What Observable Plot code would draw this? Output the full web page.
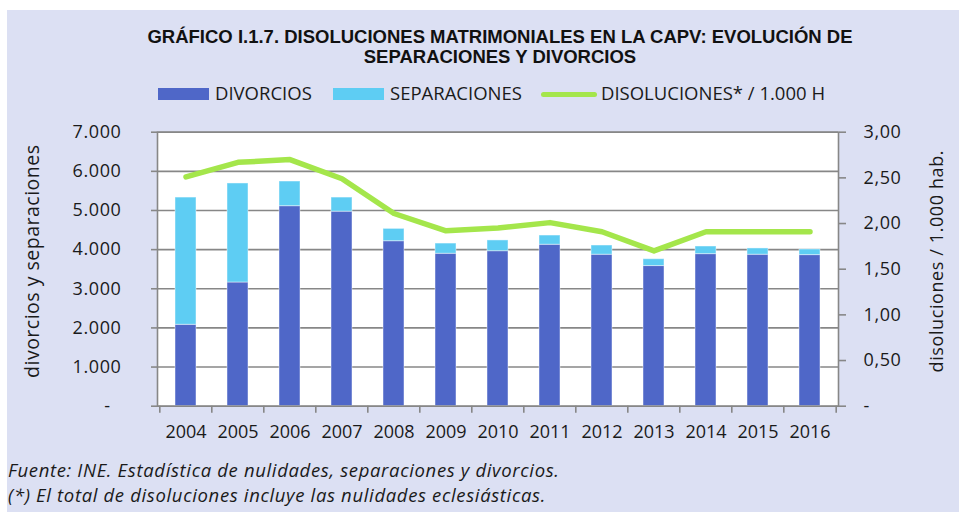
<!DOCTYPE html>
<html>
<head>
<meta charset="utf-8">
<script src="https://cdn.jsdelivr.net/npm/d3@7"></script>
<script src="https://cdn.jsdelivr.net/npm/@observablehq/plot@0.6"></script>
<style>
  html, body { margin: 0; padding: 0; background: #ffffff; }
  #page { position: relative; width: 959px; height: 512px; overflow: hidden; }
  #bg { position: absolute; left: 7px; top: 10px; width: 952px; height: 502px; background: #dce0f3; }
  #title { position: absolute; left: 0; top: 27px; width: 1000px; text-align: center;
    font-family: "Liberation Sans", Arial, sans-serif; font-weight: bold; font-size: 18.5px; line-height: 20px; color: #111; }
  .leg { position: absolute; font-family: "Open Sans", sans-serif; font-size: 18.5px; line-height: 20px; color: #1a1a1a; top: 83px; white-space: nowrap; }
  .sw { position: absolute; }
  #chart { position: absolute; left: 0; top: 110px; }
  #chart g[aria-label="y-axis tick label"] text { letter-spacing: 0.6px; }
  .foot { position: absolute; left: 8px; font-family: "Open Sans", sans-serif; font-style: italic; font-size: 18.5px; letter-spacing: 0.65px; line-height: 24px; color: #1a1a1a; white-space: nowrap; }
</style>
</head>
<body>
<div id="page">
  <div id="bg"></div>
  <div id="title">GRÁFICO I.1.7. DISOLUCIONES MATRIMONIALES EN LA CAPV: EVOLUCIÓN DE<br>SEPARACIONES Y DIVORCIOS</div>
  <div id="legend"></div>
  <div id="chart"></div>
  <div class="foot" style="top:458px">Fuente: INE. Estadística de nulidades, separaciones y divorcios.</div>
  <div class="foot" style="top:482.5px">(*) El total de disoluciones incluye las nulidades eclesiásticas.</div>
</div>
<script>
const years = ["2004","2005","2006","2007","2008","2009","2010","2011","2012","2013","2014","2015","2016"];
const divorcios = [2080, 3160, 5110, 4970, 4215, 3895, 3960, 4125, 3870, 3580, 3885, 3870, 3860];
const separaciones = [3250, 2530, 630, 360, 315, 260, 275, 235, 235, 175, 195, 160, 145];
const disoluciones = [2.51, 2.67, 2.70, 2.49, 2.11, 1.92, 1.95, 2.01, 1.91, 1.70, 1.91, 1.91, 1.91];
const seriesNames = ["DIVORCIOS", "SEPARACIONES"];
const lineName = "DISOLUCIONES* / 1.000 H";
const leftTicks = [0, 1000, 2000, 3000, 4000, 5000, 6000, 7000];
const rightTicks = [0, 0.5, 1, 1.5, 2, 2.5, 3];
const leftTitle = "divorcios y separaciones";
const rightTitle = "disoluciones / 1.000 hab.";

const colors = ["#4f67c8", "#5ecdf3"];
const lineColor = "#a4e64b";
const gridColor = "#878787";
const textColor = "#1a1a1a";

const k = 7000 / 3; // right axis -> left axis
const stacked = [];
years.forEach((y, i) => {
  stacked.push({year: y, series: seriesNames[0], value: divorcios[i]});
  stacked.push({year: y, series: seriesNames[1], value: separaciones[i]});
});
const lineData = years.map((y, i) => ({year: y, v: disoluciones[i]}));

const W = 959, ML = 157, MR = 121;
const bw = (W - ML - MR) / years.length;

const fmtLeft = d => d === 0 ? "-\u2007" : d3.format(",")(d).replace(/,/g, ".");
const fmtRight = d => {
  const v = Math.round(d / k * 100) / 100;
  return v === 0 ? "-" : v.toFixed(2).replace(".", ",");
};

const chart = Plot.plot({
  width: W, height: 340,
  marginTop: 21.7, marginBottom: 44.3, marginLeft: ML, marginRight: MR,
  style: {fontFamily: "Open Sans", fontSize: "18px", color: textColor, background: "transparent", overflow: "visible"},
  x: {domain: years, paddingInner: 0.59, paddingOuter: 0.295, axis: null},
  y: {domain: [0, 7000], axis: null},
  color: {domain: seriesNames, range: colors},
  marks: [
    Plot.frame({fill: "white"}),
    Plot.ruleY(leftTicks, {stroke: gridColor, strokeWidth: 1.6}),
    Plot.barY(stacked, {x: "year", y: "value", fill: "series", stroke: "white", strokeOpacity: 0.45, strokeWidth: 1}),
    Plot.line(lineData, {x: "year", y: d => d.v * k, stroke: lineColor, strokeWidth: 5.5, strokeLinecap: "round", strokeLinejoin: "round"}),
    Plot.frame({stroke: gridColor, strokeWidth: 1.6}),
    Plot.axisY({ticks: leftTicks, tickSize: 6, tickPadding: 30, tickFormat: fmtLeft, label: null, stroke: gridColor, strokeWidth: 1.6, fill: textColor}),
    Plot.axisY({anchor: "right", ticks: rightTicks.map(v => v * k), tickSize: 7, tickPadding: 18, tickFormat: fmtRight, label: null, stroke: gridColor, strokeWidth: 1.6, fill: textColor}),
    Plot.axisX({ticks: years, tickSize: 7, tickFormat: () => "", dx: -bw / 2, label: null, stroke: gridColor, strokeWidth: 1.6}),
    Plot.axisX({ticks: [years[years.length - 1]], tickSize: 7, tickFormat: () => "", dx: bw / 2, label: null, stroke: gridColor, strokeWidth: 1.6}),
    Plot.axisX({ticks: years, tickSize: 0, tickPadding: 19, label: null, fill: textColor}),
    Plot.text([leftTitle], {frameAnchor: "left", textAnchor: "middle", rotate: -90, dx: -125, dy: -8, fontSize: 19.5, fill: textColor}),
    Plot.text([rightTitle], {frameAnchor: "right", textAnchor: "middle", rotate: -90, dx: 98.7, dy: -8, fontSize: 18, fill: textColor})
  ]
});
document.getElementById("chart").appendChild(chart);
// wider letter spacing on the rotated axis titles (Calibri-like width)
chart.querySelectorAll('g[aria-label="text"] text').forEach(t => {
  if (t.textContent === leftTitle) t.setAttribute("letter-spacing", "0.5");
  if (t.textContent === rightTitle) t.setAttribute("letter-spacing", "0.6");
});

// legend
const legend = document.getElementById("legend");
const items = [
  {label: seriesNames[0], color: colors[0], type: "box", x: 158, tx: 215},
  {label: seriesNames[1], color: colors[1], type: "box", x: 333, tx: 390},
  {label: lineName, color: lineColor, type: "line", x: 541, tx: 601}
];
items.forEach(it => {
  const sw = document.createElement("div");
  sw.className = "sw";
  if (it.type === "box") {
    Object.assign(sw.style, {left: it.x + "px", top: "88px", width: "51px", height: "12px", background: it.color});
  } else {
    Object.assign(sw.style, {left: it.x + "px", top: "91.5px", width: "56px", height: "5px", background: it.color, borderRadius: "3px"});
  }
  legend.appendChild(sw);
  const t = document.createElement("div");
  t.className = "leg";
  t.style.left = it.tx + "px";
  t.textContent = it.label;
  legend.appendChild(t);
});
</script>
</body>
</html>
